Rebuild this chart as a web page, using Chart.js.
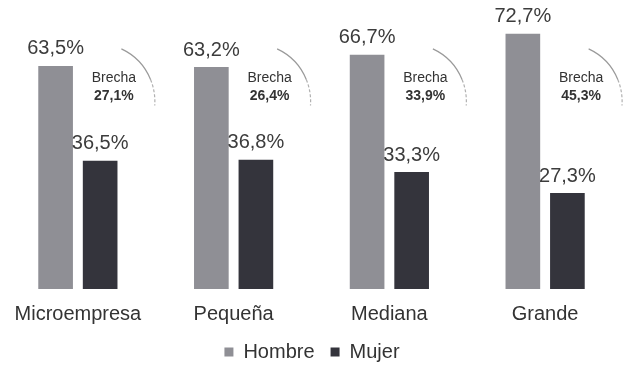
<!DOCTYPE html>
<html>
<head>
<meta charset="utf-8">
<script src="https://cdn.jsdelivr.net/npm/chart.js@4.4.1/dist/chart.umd.min.js"></script>
<style>
  html, body { margin: 0; padding: 0; background: #fff; }
  #chart-content { position: relative; width: 623px; height: 365px; }
</style>
</head>
<body>
<div id="chart-content">
  <canvas id="brecha-chart" width="623" height="365"></canvas>
</div>
<script>
const categories = ['Microempresa', 'Pequeña', 'Mediana', 'Grande'];
const hombre = [63.5, 63.2, 66.7, 72.7];
const mujer = [36.5, 36.8, 33.3, 27.3];
const brecha = ['27,1%', '26,4%', '33,9%', '45,3%'];

const FONT = '"Liberation Sans", Arial, Helvetica, sans-serif';

const fmt = (v) => v.toFixed(1).replace('.', ',') + '%';

// value over each bar + the "Brecha" note with its curved line
const labelsPlugin = {
  id: 'barLabels',
  afterDatasetsDraw(chart) {
    const ctx = chart.ctx;
    const x = chart.scales.x;
    const y = chart.scales.y;

    ctx.save();
    ctx.textAlign = 'center';
    ctx.textBaseline = 'middle';
    ctx.font = '20px ' + FONT;
    ctx.fillStyle = '#3c3c3c';
    chart.data.datasets.forEach((ds, i) => {
      chart.getDatasetMeta(i).data.forEach((bar, j) => {
        ctx.fillText(fmt(ds.data[j]), bar.x, bar.y - 17);
      });
    });

    categories.forEach((c, j) => {
      const cx = x.getPixelForValue(j);
      ctx.fillStyle = '#333';
      ctx.font = '14px ' + FONT;
      ctx.fillText('Brecha', cx + 36, y.getPixelForValue(60));
      ctx.font = 'bold 14px ' + FONT;
      ctx.fillText(brecha[j], cx + 36, y.getPixelForValue(54.9));

      const ax = cx + 19;
      const ay = y.getPixelForValue(53.4);
      ctx.strokeStyle = '#9a9a9a';
      ctx.lineWidth = 1.2;
      ctx.beginPath();
      ctx.arc(ax, ay, 58, -65 * Math.PI / 180, -22 * Math.PI / 180);
      ctx.stroke();
      ctx.setLineDash([3, 2]);
      ctx.strokeStyle = '#b0b0b0';
      ctx.beginPath();
      ctx.arc(ax, ay, 58, -22 * Math.PI / 180, 4 * Math.PI / 180);
      ctx.stroke();
      ctx.setLineDash([]);
    });
    ctx.restore();
  },
};

var config = {
  type: 'bar',
  data: {
    labels: categories,
    datasets: [
      {
        label: 'Hombre',
        data: hombre,
        backgroundColor: '#8f8f95',
        borderWidth: 0,
      },
      {
        label: 'Mujer',
        data: mujer,
        backgroundColor: '#34343c',
        borderWidth: 0,
      },
    ],
  },
  options: {
    responsive: false,
    animation: false,
    events: [],
    categoryPercentage: 0.572,
    barPercentage: 0.778,
    layout: {
      padding: { top: 8, left: -3, right: -4, bottom: -7 },
    },
    plugins: {
      tooltip: { enabled: false },
      legend: {
        position: 'bottom',
        labels: {
          boxWidth: 9,
          boxHeight: 9,
          padding: 16,
          color: '#333',
          font: { family: FONT, size: 20 },
        },
      },
    },
    scales: {
      x: {
        grid: { display: false, drawTicks: false },
        border: { display: false },
        ticks: {
          color: '#333',
          padding: 13,
          font: { family: FONT, size: 20 },
        },
        afterFit: (scale) => {
          scale.height = 37;
        },
      },
      y: {
        display: false,
        min: 0,
        max: 80,
      },
    },
  },
  plugins: [labelsPlugin],
};

var ctx = document.getElementById('brecha-chart').getContext('2d');
window.brechaChart = new Chart(ctx, config);
</script>
</body>
</html>
